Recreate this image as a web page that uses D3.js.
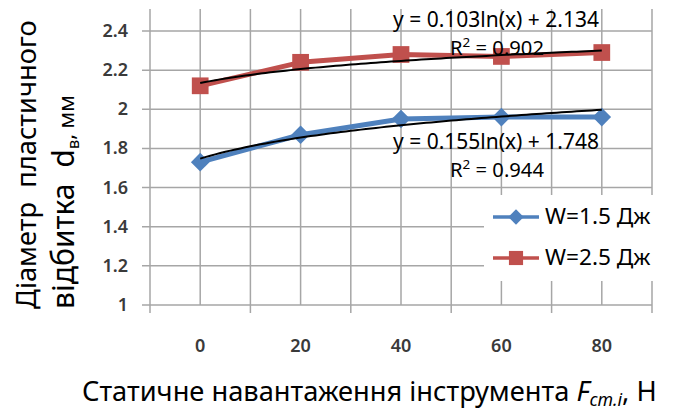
<!DOCTYPE html>
<html>
<head>
<meta charset="utf-8">
<script src="https://cdn.jsdelivr.net/npm/d3@7"></script>
<style>
  body { margin: 0; background: #fff; }
  svg { display: block; font-family: "Noto Sans", "Open Sans", sans-serif; }
  text { white-space: pre; }
</style>
</head>
<body>
<svg id="chart" width="674" height="410"></svg>
<script>
// навантаження, Н
const loads = ['0', '20', '40', '60', '80'];
// діаметр відбитка, мм
const w15 = [1.73, 1.87, 1.95, 1.96, 1.96];
const w25 = [2.12, 2.24, 2.28, 2.27, 2.29];
const yTicks = [1, 1.2, 1.4, 1.6, 1.8, 2, 2.2, 2.4];
const seriesNames = ['W=1.5 Дж', 'W=2.5 Дж'];
// логарифмічні лінії тренду (коефіцієнти з діаграми)
const trendW15 = { a: 0.155, b: 1.748, eq: 'y = 0.155ln(x) + 1.748', r2: '0.944' };
const trendW25 = { a: 0.103, b: 2.134, eq: 'y = 0.103ln(x) + 2.134', r2: '0.902' };

const svg = d3.select('#chart');
const plotL = 150, plotR = 652, plotT = 9, plotB = 305;
const blue = '#4f81bd', red = '#c0504d', grid = '#a6a6a6';

const x = d3.scaleBand().domain(loads).range([plotL, plotR]).padding(0);
const y = d3.scaleLinear().domain([1, 2.4]).range([plotB, 31]);
const cx = d => x(d) + x.bandwidth() / 2;

// підганяє ширину тексту (шрифт Calibri недоступний)
function fit(sel, width) {
    const k = width / sel.node().getBBox().width;
    sel.attr('font-size', +sel.attr('font-size') * k);
    sel.selectAll('tspan').each(function () {
        const t = d3.select(this);
        if (t.attr('font-size')) t.attr('font-size', +t.attr('font-size') * k);
        if (t.attr('dy')) t.attr('dy', +t.attr('dy') * k);
    });
    return sel;
}

// сітка
const g = svg.append('g');
const vLines = [];
loads.forEach(d => { vLines.push(x(d)); vLines.push(cx(d)); });
vLines.push(plotR);
g.selectAll('.vg').data(vLines).enter().append('line')
    .attr('x1', d => d).attr('x2', d => d)
    .attr('y1', plotT).attr('y2', plotB)
    .attr('stroke', grid).attr('stroke-width', 1.5);
g.selectAll('.hg').data(yTicks).enter().append('line')
    .attr('x1', plotL - 8).attr('x2', plotR)
    .attr('y1', d => y(d)).attr('y2', d => y(d))
    .attr('stroke', grid).attr('stroke-width', 1.5);
// засічки осі X
g.selectAll('.xt').data(loads.map(d => x(d)).concat([plotR])).enter().append('line')
    .attr('x1', d => d).attr('x2', d => d)
    .attr('y1', plotB).attr('y2', plotB + 8)
    .attr('stroke', grid).attr('stroke-width', 1.5);

// підписи осей
svg.append('g').selectAll('text').data(yTicks).enter().append('text')
    .attr('x', 128).attr('y', d => y(d) + 6)
    .attr('text-anchor', 'end')
    .attr('font-size', 18).attr('font-weight', 600).attr('fill', '#3a3a3a')
    .text(d => d3.format('')(d));
svg.append('g').selectAll('text').data(loads).enter().append('text')
    .attr('x', d => cx(d)).attr('y', 352)
    .attr('text-anchor', 'middle')
    .attr('font-size', 18).attr('font-weight', 600).attr('fill', '#3a3a3a')
    .text(d => d);

// лінії тренду
function trendPath(t) {
    const pts = d3.range(1, 5.001, 0.05).map(i => [plotL + (i - 0.5) * x.bandwidth(), y(t.a * Math.log(i) + t.b)]);
    return d3.line()(pts);
}

// серії
function drawSeries(values, color, shape, size, trend) {
    const pts = loads.map((d, i) => [cx(d), y(values[i])]);
    svg.append('path').attr('d', d3.line()(pts))
        .attr('fill', 'none').attr('stroke', color).attr('stroke-width', 5)
        .attr('stroke-linejoin', 'round');
    svg.append('g').selectAll('path').data(pts).enter().append('path')
        .attr('transform', d => `translate(${d[0]},${d[1]})`)
        .attr('d', d3.symbol().type(shape).size(size))
        .attr('fill', color);
    svg.append('path').attr('d', trendPath(trend))
        .attr('fill', 'none').attr('stroke', '#000').attr('stroke-width', 2);
}
drawSeries(w15, blue, d3.symbolDiamond2, 220, trendW15);
drawSeries(w25, red, d3.symbolSquare, 280, trendW25);

// рівняння трендів
function trendLabel(t, yEq, yR) {
    const e = svg.append('text').attr('x', 496).attr('y', yEq).attr('text-anchor', 'middle')
        .attr('font-size', 18).attr('fill', '#000').text(t.eq);
    fit(e, 206);
    const r = svg.append('text').attr('x', 497).attr('y', yR).attr('text-anchor', 'middle')
        .attr('font-size', 18).attr('fill', '#000');
    r.append('tspan').text('R');
    r.append('tspan').attr('font-size', 12).attr('dy', -7).text('2');
    r.append('tspan').attr('dy', 7).text(' = ' + t.r2);
    fit(r, 94);
}
trendLabel(trendW25, 27, 55);
trendLabel(trendW15, 149, 177);

// легенда
const lg = svg.append('g');
lg.append('rect').attr('x', 484).attr('y', 195).attr('width', 180).attr('height', 86).attr('fill', '#fff');
const legendItems = [
    { name: seriesNames[0], color: blue, shape: d3.symbolDiamond2, size: 150, y: 217 },
    { name: seriesNames[1], color: red, shape: d3.symbolSquare, size: 200, y: 258 },
];
legendItems.forEach(d => {
    lg.append('line').attr('x1', 493).attr('x2', 539).attr('y1', d.y).attr('y2', d.y)
        .attr('stroke', d.color).attr('stroke-width', 3.5);
    lg.append('path').attr('transform', `translate(516,${d.y})`)
        .attr('d', d3.symbol().type(d.shape).size(d.size)).attr('fill', d.color);
    const t = lg.append('text').attr('x', 545).attr('y', d.y + 7)
        .attr('font-size', 18).attr('fill', '#000').text(d.name);
    fit(t, 106);
});

// назва осі Y
const yt1 = svg.append('text').attr('transform', 'translate(36,309) rotate(-90)')
    .attr('font-size', 25).attr('fill', '#000').text('Діаметр  пластичного');
fit(yt1, 289);
const yt2 = svg.append('text').attr('transform', 'translate(74,309) rotate(-90)')
    .attr('font-size', 25).attr('fill', '#000');
yt2.append('tspan').text('відбитка  d');
yt2.append('tspan').attr('font-size', 14).attr('dy', 4).text('в');
yt2.append('tspan').attr('font-size', 18).attr('dy', -4).text(', мм');
fit(yt2, 214);

// назва осі X
const xt = svg.append('text').attr('x', 82).attr('y', 401)
    .attr('font-size', 23).attr('fill', '#000');
xt.append('tspan').text('Статичне навантаження інструмента ');
xt.append('tspan').attr('font-style', 'italic').text('F');
xt.append('tspan').attr('font-style', 'italic').attr('font-size', 15).attr('dy', 4).text('cm.i');
xt.append('tspan').attr('dy', -4).text(', Н');
fit(xt, 575);
</script>
</body>
</html>
